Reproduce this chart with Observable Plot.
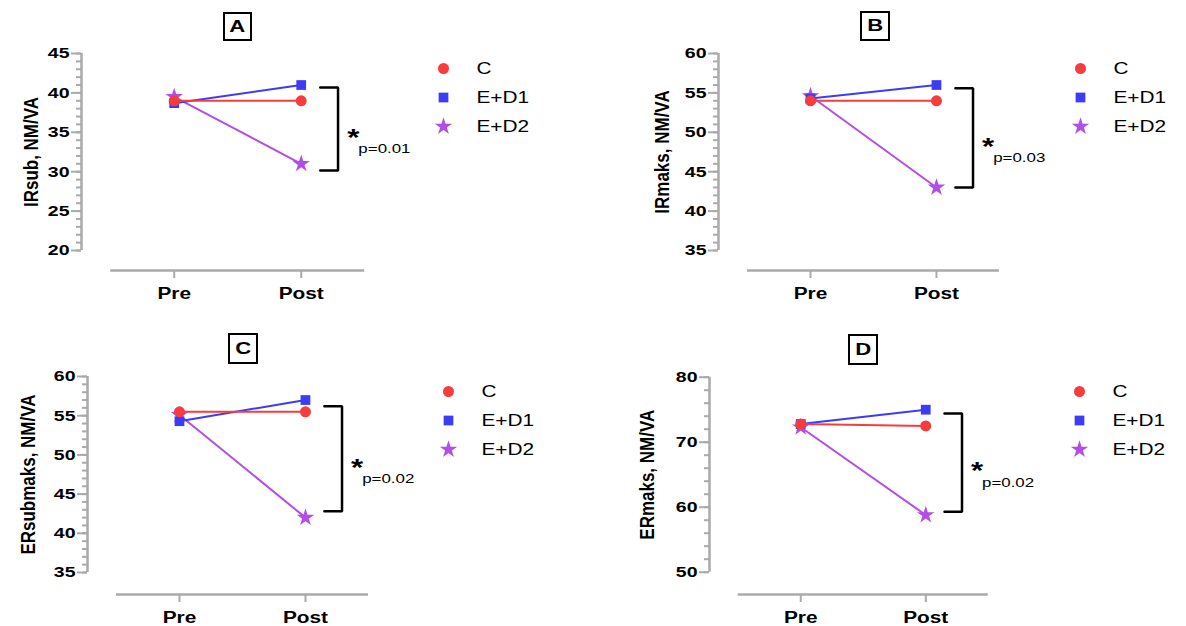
<!DOCTYPE html>
<html><head><meta charset="utf-8">
<script src="https://cdn.jsdelivr.net/npm/d3@7"></script>
<script src="https://cdn.jsdelivr.net/npm/@observablehq/plot@0.6"></script>
<style>
body{margin:0;background:#fff;}
#fig{position:relative;width:1186px;height:626px;overflow:hidden;font-family:"Liberation Sans",Arial,sans-serif;}
.panel,.legend{position:absolute;}
.tag{position:absolute;box-sizing:border-box;border:2.5px solid #000;display:flex;align-items:center;justify-content:center;font-weight:bold;font-size:17px;background:#fff;}
.tag span{display:inline-block;transform:scaleX(1.3);}
</style></head><body><div id="fig"></div>
<script>
// ---- data ----
const groups = ["C", "E+D1", "E+D2"];
const timepoints = ["Pre", "Post"];
const colors = ["#f63c3c", "#3c3cf4", "#b24ee8"];
const symbols = ["circle", "square", "star"];
const panelIds = ["A", "B", "C", "D"];
const yTitles = ["IRsub, NM/VA", "IRmaks, NM/VA", "ERsubmaks, NM/VA", "ERmaks, NM/VA"];
// [Pre, Post] per panel
const cValues  = [[39, 39], [54, 54], [55.5, 55.5], [72.8, 72.5]];
const d1Values = [[38.7, 41], [54.3, 56], [54.3, 57], [72.8, 75]];
const d2Values = [[39.5, 31], [54.6, 43], [55.1, 42], [72.3, 58.8]];
const yTicksMajor = [[20, 25, 30, 35, 40, 45], [35, 40, 45, 50, 55, 60], [35, 40, 45, 50, 55, 60], [50, 60, 70, 80]];
const minorStep = [1, 1, 1, 2];
const bracketTop = [40.7, 55.6, 56.2, 74.4];
const bracketBottom = [30.15, 43.0, 42.8, 59.3];
const pLabels = ["p=0.01", "p=0.03", "p=0.02", "p=0.02"];

// ---- layout (pixels) ----
const layout = [
  {left: 0,   top: 0,   w: 600, h: 320, ml: 81,  step: 127, mt: 53,   fb: 270, titleDx: -44, tag: [223, 12, 29, 29],  legend: [443, 67]},
  {left: 600, top: 0,   w: 586, h: 320, ml: 118, step: 126, mt: 53,   fb: 270, titleDx: -50, tag: [860, 11, 30, 30],  legend: [1080, 67]},
  {left: 0,   top: 320, w: 600, h: 306, ml: 87,  step: 126, mt: 56,   fb: 274, titleDx: -53, tag: [228, 333, 30, 31], legend: [448, 390]},
  {left: 600, top: 320, w: 586, h: 306, ml: 109, step: 125, mt: 56.7, fb: 274, titleDx: -56, tag: [848, 334, 30, 31], legend: [1079, 390]}
];
const S = 1.3; // horizontal stretch of the reference's lettering
const FONT = "Liberation Sans, Arial, Helvetica, sans-serif";
const GRAY = "#aaaaaa";
const xLo = -0.73, xHi = 1.5, xLineLo = -0.5;
const bx = [1.15, 1.29];

const fig = document.getElementById("fig");

function stretch(svg) {
  svg.querySelectorAll("text").forEach(t => {
    let el = t, rotated = false;
    while (el && el !== svg) {
      const tr = el.getAttribute && el.getAttribute("transform");
      if (tr && tr.includes("rotate")) { rotated = true; break; }
      el = el.parentNode;
    }
    if (rotated) {
      t.setAttribute("transform", (t.getAttribute("transform") || "") + " scale(1,1.2)");
      return;
    }
    const len = t.getComputedTextLength();
    if (len > 0) {
      t.setAttribute("textLength", len * S);
      t.setAttribute("lengthAdjust", "spacingAndGlyphs");
    }
  });
}

panelIds.forEach((id, p) => {
  const L = layout[p];
  const major = yTicksMajor[p];
  const tMin = major[0], tMax = major[major.length - 1];
  const minor = d3.range(tMin, tMax + 0.001, minorStep[p]);
  const pxPerUnit = (L.fb - L.mt) ; // placeholder, recomputed below
  const unit = ( ( (L.fb - L.mt) ) );
  // y scale: tMax at mt, tMin at known pixel; frame bottom extends below tMin
  const tMinPx = [250, 250, 252, 251.7][p];
  const upp = (tMax - tMin) / (tMinPx - L.mt);
  const yMin = tMin - (L.fb - tMinPx) * upp;
  const mr = L.w - (L.ml + (xHi - xLo) * L.step);

  const vals = [d2Values[p], d1Values[p], cValues[p]];
  const order = ["E+D2", "E+D1", "C"];
  const data = order.flatMap((g, k) => timepoints.map((t, i) => ({group: g, t: i, value: vals[k][i]})));
  const top = bracketTop[p], bot = bracketBottom[p], mid = (top + bot) / 2;
  const bracket = [{x: bx[0], y: top}, {x: bx[1], y: top}, {x: bx[1], y: bot}, {x: bx[0], y: bot}];

  const chart = Plot.plot({
    width: L.w, height: L.h,
    marginLeft: L.ml, marginRight: mr, marginTop: L.mt, marginBottom: L.h - L.fb,
    style: {fontFamily: FONT, background: "transparent", overflow: "visible"},
    x: {domain: [xLo, xHi]},
    y: {domain: [yMin, tMax]},
    color: {domain: groups, range: colors},
    symbol: {domain: groups, range: symbols},
    marks: [
      Plot.ruleX([xLo], {x: d => d, y1: tMin, y2: tMax, stroke: GRAY, strokeWidth: 2.5}),
      Plot.axisY({ticks: minor, tickSize: 5, tickFormat: () => "", stroke: GRAY, strokeWidth: 2}),
      Plot.axisY({ticks: major, tickSize: 10, tickPadding: 2, fontSize: 15, fontWeight: "bold", fill: "#000", stroke: GRAY, strokeWidth: 2}),
      Plot.ruleY([yMin], {y: d => d, x1: xLineLo, x2: xHi, stroke: GRAY, strokeWidth: 2.5}),
      Plot.axisX({ticks: [0, 1], tickFormat: i => timepoints[i], tickSize: 8, tickPadding: 9, fontSize: 16, fontWeight: "bold", fill: "#000", stroke: GRAY, strokeWidth: 2}),
      Plot.text([yTitles[p]], {text: d => d, frameAnchor: "left", y: () => (tMin + tMax) / 2, rotate: -90, dx: L.titleDx, lineAnchor: "bottom", textAnchor: "middle", fontSize: 17, fontWeight: "bold", fill: "#000"}),
      Plot.line(data, {x: "t", y: "value", z: "group", stroke: "group", strokeWidth: 2}),
      Plot.dot(data, {x: "t", y: "value", symbol: "group", fill: "group", r: 5.5}),
      Plot.line(bracket, {x: "x", y: "y", stroke: "#000", strokeWidth: 2.5, strokeLinejoin: "miter"}),
      Plot.text(["*"], {text: d => d, x: () => 1.41, y: () => mid, dy: 9, textAnchor: "middle", fontSize: 24, fontWeight: "bold", fill: "#000"}),
      Plot.text([pLabels[p]], {text: d => d, x: () => 1.45, y: () => mid, dy: 20, textAnchor: "start", fontSize: 13, fill: "#000"})
    ]
  });
  chart.classList.add("panel");
  chart.style.left = L.left + "px";
  chart.style.top = L.top + "px";
  fig.appendChild(chart);
  stretch(chart);

  const legend = Plot.plot({
    width: 150, height: 89,
    marginLeft: 10, marginRight: 0, marginTop: 15, marginBottom: 15,
    style: {fontFamily: FONT, background: "transparent", overflow: "visible"},
    x: {domain: [0, 1], axis: null},
    y: {type: "point", domain: groups, padding: 0, axis: null},
    color: {domain: groups, range: colors},
    symbol: {domain: groups, range: symbols},
    marks: [
      Plot.dot(groups, {x: () => 0, y: d => d, fill: d => d, symbol: d => d, r: 5.5}),
      Plot.text(groups, {x: () => 0, y: d => d, text: d => d, dx: 33, textAnchor: "start", fontSize: 16, fill: "#000"})
    ]
  });
  legend.classList.add("legend");
  legend.style.left = (L.legend[0] - 10) + "px";
  legend.style.top = (L.legend[1] - 15) + "px";
  fig.appendChild(legend);
  stretch(legend);

  const tag = document.createElement("div");
  tag.className = "tag";
  tag.style.left = L.tag[0] + "px";
  tag.style.top = L.tag[1] + "px";
  tag.style.width = L.tag[2] + "px";
  tag.style.height = L.tag[3] + "px";
  const sp = document.createElement("span");
  sp.textContent = id;
  tag.appendChild(sp);
  fig.appendChild(tag);
});
</script></body></html>
